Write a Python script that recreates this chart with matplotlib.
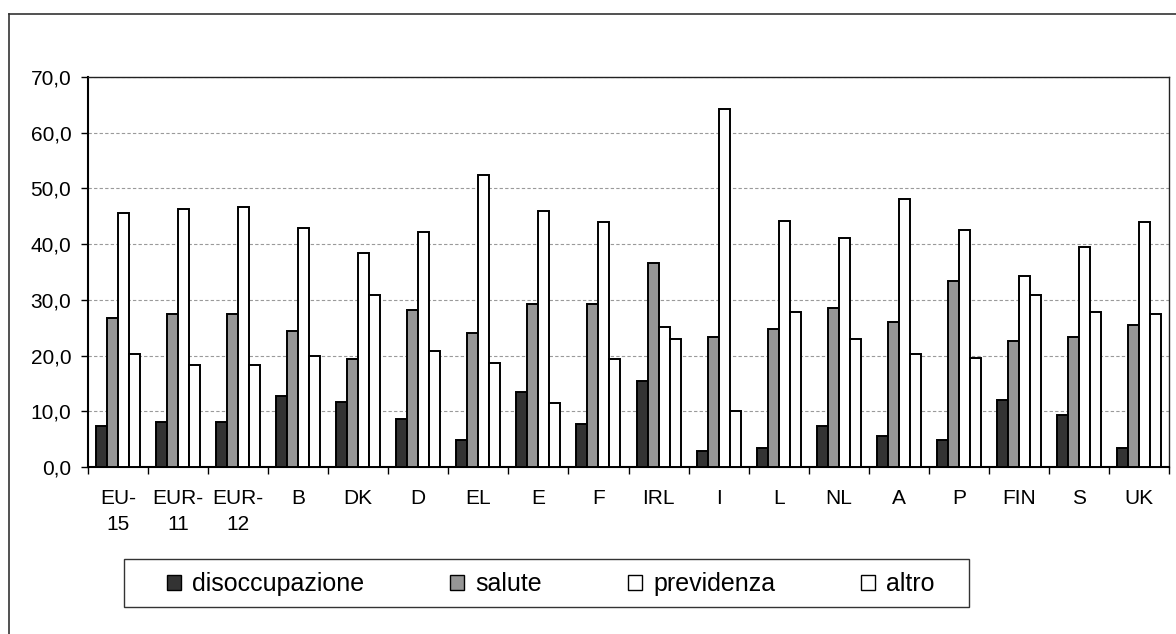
import matplotlib
matplotlib.use('Agg')
import matplotlib.pyplot as plt
import numpy as np
from matplotlib.ticker import FuncFormatter, MultipleLocator, FixedLocator
from matplotlib.patches import Patch, Rectangle
from matplotlib.lines import Line2D

categories = ["EU-\n15", "EUR-\n11", "EUR-\n12", "B", "DK", "D", "EL", "E", "F",
              "IRL", "I", "L", "NL", "A", "P", "FIN", "S", "UK"]
disoccupazione = [7.3, 8.0, 8.0, 12.7, 11.7, 8.7, 4.9, 13.5, 7.7, 15.5, 2.9, 3.5, 7.3, 5.6, 4.9, 12.1, 9.3, 3.5]
salute = [26.8, 27.5, 27.5, 24.4, 19.3, 28.2, 24.1, 29.2, 29.2, 36.7, 23.4, 24.8, 28.5, 26.1, 33.3, 22.7, 23.4, 25.4]
previdenza = [45.6, 46.3, 46.7, 42.9, 38.4, 42.2, 52.5, 46.0, 43.9, 25.1, 64.2, 44.2, 41.1, 48.1, 42.5, 34.3, 39.4, 43.9]
altro = [20.3, 18.3, 18.3, 19.9, 30.9, 20.9, 18.6, 11.4, 19.3, 23.0, 10.0, 27.8, 23.0, 20.3, 19.6, 30.9, 27.8, 27.5]
series_names = ["disoccupazione", "salute", "previdenza", "altro"]
series = [disoccupazione, salute, previdenza, altro]
colors = ["#333333", "#969696", "#ffffff", "#ffffff"]

plt.rcParams['font.family'] = ['Liberation Sans', 'DejaVu Sans']

W, H = 1176, 634
fig = plt.figure(figsize=(W / 100, H / 100), dpi=100)
ax = fig.add_axes([88 / W, 1 - 467 / H, (1169 - 88) / W, (467 - 77) / H])

x = np.arange(len(categories))
bw = 0.183
for i, (vals, col) in enumerate(zip(series, colors)):
    ax.bar(x + (i - 1.5) * bw, vals, width=bw, color=col, edgecolor='black',
           linewidth=1.4, zorder=3)

ax.set_xlim(-0.5, len(categories) - 0.5)
ax.set_ylim(0, 70)
ax.yaxis.set_major_locator(MultipleLocator(10))
ax.yaxis.set_major_formatter(FuncFormatter(lambda v, p: f"{v:.1f}".replace('.', ',')))
ax.grid(axis='y', color='#9a9a9a', linestyle=(0, (3, 2)), linewidth=0.8, zorder=0)

ax.set_xticks(x)
ax.set_xticklabels(categories, fontsize=15, linespacing=1.45, multialignment='center')
ax.xaxis.set_minor_locator(FixedLocator(np.arange(-0.5, len(categories), 1.0)))
ax.tick_params(axis='x', which='major', length=0, pad=16)
ax.tick_params(axis='x', which='minor', length=5, width=1.0, direction='out', color='black')
ax.tick_params(axis='y', which='major', length=5, width=1.0, direction='out',
               labelsize=15, pad=7)

for s in ['left', 'bottom']:
    ax.spines[s].set_linewidth(1.5)
    ax.spines[s].set_color('black')
for s in ['top', 'right']:
    ax.spines[s].set_linewidth(1.0)
    ax.spines[s].set_color('#222222')

# legend box
fig.add_artist(Rectangle((124 / W, 1 - 607 / H), (969 - 124) / W, (607 - 559) / H,
                         transform=fig.transFigure, facecolor='white',
                         edgecolor='#333333', linewidth=1.0))
handles = [Patch(facecolor=c, edgecolor='black', linewidth=1.0) for c in colors]
fs = 18
fig.legend(handles, series_names, loc='center', ncol=4, frameon=False,
           bbox_to_anchor=(551 / W, 1 - 584 / H), fontsize=fs,
           handlelength=14 / 25, handleheight=14 / 25, handletextpad=11 / 25,
           columnspacing=86 / 25, borderpad=0.2)

# outer frame
fig.add_artist(Line2D([9 / W, 9 / W], [1 - 14 / H, 0], transform=fig.transFigure,
                      color='#333333', linewidth=1.2))
fig.add_artist(Line2D([9 / W, 1], [1 - 14 / H, 1 - 14 / H], transform=fig.transFigure,
                      color='#333333', linewidth=1.2))

fig.savefig('out.png', dpi=100)
